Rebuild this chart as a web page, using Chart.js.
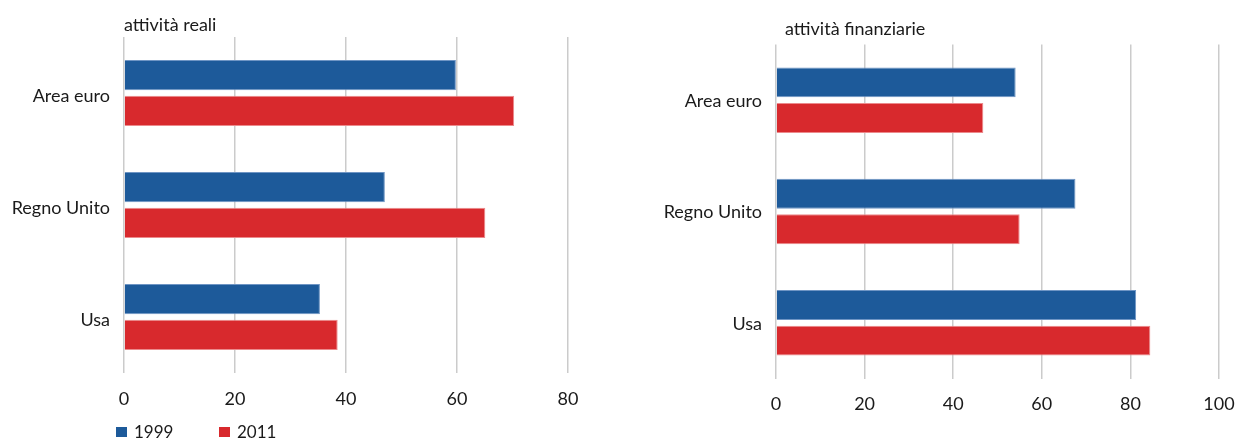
<!DOCTYPE html>
<html>
<head>
<meta charset="utf-8">
<script src="https://cdn.jsdelivr.net/npm/chart.js@4.4.1/dist/chart.umd.min.js"></script>
<style>
  html, body { margin: 0; padding: 0; background: #fff; }
  body { width: 1244px; height: 441px; position: relative; overflow: hidden; font-family: Lato, "Noto Sans", sans-serif; }
  .panel { position: absolute; top: 0; height: 441px; }
  #left { left: 0; width: 620px; }
  #right { left: 640px; width: 604px; }
  .legend { position: absolute; left: 116px; top: 422px; font-size: 17px; color: #1a1a1a; }
  .legend .item { position: absolute; top: 0; white-space: nowrap; }
  .legend .sw { position: absolute; top: 5px; width: 11px; height: 10px; }
  .legend .tx { position: absolute; left: 18px; top: 0; line-height: 20px; }
</style>
</head>
<body>
<div class="panel" id="left"><canvas id="cReal" width="620" height="441"></canvas></div>
<div class="panel" id="right"><canvas id="cFin" width="604" height="441"></canvas></div>
<div class="legend" id="legend"></div>
<script>
// Categories and series (percent values)
const categories = ['Area euro', 'Regno Unito', 'Usa'];
const seriesNames = ['1999', '2011'];
const seriesColors = ['#1d5a9a', '#d8292d'];
const seriesBorders = ['#6f95c4', '#ec8a8c'];

// attività reali
const real1999 = [59.8, 47.0, 35.3];
const real2011 = [70.3, 65.1, 38.5];
const realTicks = [0, 20, 40, 60, 80];

// attività finanziarie
const fin1999 = [54.1, 67.6, 81.3];
const fin2011 = [46.8, 55.0, 84.5];
const finTicks = [0, 20, 40, 60, 80, 100];

const FONT = { family: 'Lato, "Noto Sans", sans-serif', size: 18 };
const TEXT = '#1a1a1a';
const GRID = '#cbcbcb';

// Panel title, drawn above the plot area at its left edge
const panelTitle = {
  id: 'panelTitle',
  afterDraw(chart, args, opts) {
    const ctx = chart.ctx;
    ctx.save();
    ctx.font = FONT.size + 'px ' + FONT.family;
    ctx.fillStyle = TEXT;
    ctx.textAlign = 'left';
    ctx.textBaseline = 'alphabetic';
    ctx.fillText(opts.text, chart.chartArea.left + opts.dx, opts.baseline);
    ctx.restore();
  }
};

function makeChart(id, title, titleBaseline, titleDx, d1999, d2011, ticks, cfg) {
  return new Chart(document.getElementById(id), {
    type: 'bar',
    data: {
      labels: categories,
      datasets: [
        { label: seriesNames[0], data: d1999, backgroundColor: seriesColors[0], borderColor: seriesBorders[0], borderWidth: 1 },
        { label: seriesNames[1], data: d2011, backgroundColor: seriesColors[1], borderColor: seriesBorders[1], borderWidth: 1 }
      ]
    },
    options: {
      indexAxis: 'y',
      responsive: false,
      animation: false,
      categoryPercentage: 0.64,
      barPercentage: 0.84,
      layout: { padding: { top: cfg.top, right: cfg.right, bottom: 0, left: 0 } },
      plugins: {
        legend: { display: false },
        tooltip: { enabled: false },
        panelTitle: { text: title, baseline: titleBaseline, dx: titleDx }
      },
      scales: {
        x: {
          min: ticks[0],
          max: ticks[ticks.length - 1],
          afterBuildTicks(scale) { scale.ticks = ticks.map(v => ({ value: v })); },
          afterFit(scale) { scale.height = cfg.xHeight; },
          border: { display: false },
          grid: { color: GRID, lineWidth: 1.5, drawTicks: true, tickLength: 14, tickColor: 'rgba(0,0,0,0)' },
          ticks: { color: TEXT, font: FONT, padding: 1, maxRotation: 0 }
        },
        y: {
          afterFit(scale) { scale.width = cfg.yWidth; },
          border: { display: false },
          grid: { display: false, drawTicks: false },
          ticks: { color: TEXT, font: FONT, padding: 14, labelOffset: cfg.labelOffset }
        }
      }
    },
    plugins: [panelTitle]
  });
}

makeChart('cReal', 'attività reali', 31, 0, real1999, real2011, realTicks,
  { top: 37, right: 52, xHeight: 68, yWidth: 124, labelOffset: 3 });
makeChart('cFin', 'attività finanziarie', 35, 9, fin1999, fin2011, finTicks,
  { top: 44.5, right: 25, xHeight: 62.5, yWidth: 136, labelOffset: 1 });

// Legend for both panels
const legend = document.getElementById('legend');
const legendX = [0, 103];
seriesNames.forEach((name, i) => {
  const item = document.createElement('div');
  item.className = 'item';
  item.style.left = legendX[i] + 'px';
  const sw = document.createElement('span');
  sw.className = 'sw';
  sw.style.background = seriesColors[i];
  const tx = document.createElement('span');
  tx.className = 'tx';
  tx.textContent = name;
  item.appendChild(sw);
  item.appendChild(tx);
  legend.appendChild(item);
});
</script>
</body>
</html>
